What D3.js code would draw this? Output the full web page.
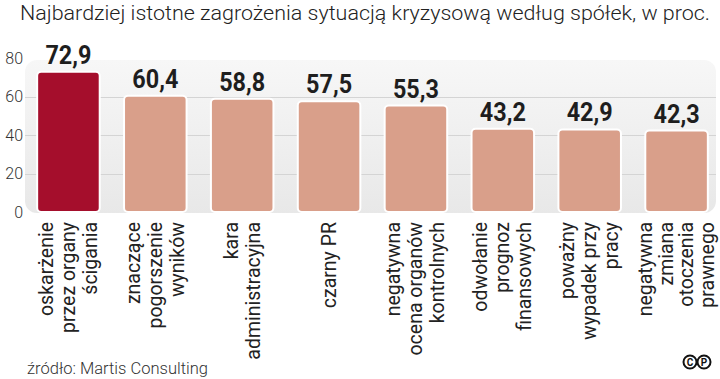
<!DOCTYPE html>
<html><head><meta charset="utf-8">
<script src="https://cdn.jsdelivr.net/npm/d3@7"></script>
<style>html,body{margin:0;padding:0;background:#fff;}svg{display:block;}</style>
</head><body>
<svg id="c" width="720" height="379"></svg>
<script>
const categories = [
  ["oskarżenie","przez organy","ścigania"],
  ["znaczące","pogorszenie","wyników"],
  ["kara","administracyjna"],
  ["czarny PR"],
  ["negatywna","ocena organów","kontrolnych"],
  ["odwołanie","prognoz","finansowych"],
  ["poważny","wypadek przy","pracy"],
  ["negatywna","zmiana","otoczenia","prawnego"]
];
const values = [72.9, 60.4, 58.8, 57.5, 55.3, 43.2, 42.9, 42.3];
const valueLabels = ["72,9","60,4","58,8","57,5","55,3","43,2","42,9","42,3"];
const yTicks = [0, 20, 40, 60, 80];
const title = "Najbardziej istotne zagrożenia sytuacją kryzysową według spółek, w proc.";
const source = "źródło: Martis Consulting";

const svg = d3.select("#c");
const keys = categories.map((c,i)=>"c"+i);
const x = d3.scaleBand().domain(keys).range([25, 720]).paddingInner(0.28).paddingOuter(0.14);
const y = d3.scaleLinear().domain([0, 80]).range([212, 58]);

const defs = svg.append("defs");
const grad = defs.append("linearGradient").attr("id","bg").attr("x1",0).attr("y1",0).attr("x2",0).attr("y2",1);
grad.append("stop").attr("offset","0%").attr("stop-color","#f7f7f7");
grad.append("stop").attr("offset","100%").attr("stop-color","#e8e8e8");

svg.append("rect").attr("x",25).attr("y",y(79)).attr("width",691).attr("height",y(0)-y(79)+1)
  .attr("rx",12).attr("fill","url(#bg)");

// grid
svg.append("g").selectAll("line").data(yTicks.filter(t=>t>0 && t<80)).join("line")
  .attr("x1",25).attr("x2",716).attr("y1",d=>Math.round(y(d))+0.5).attr("y2",d=>Math.round(y(d))+0.5)
  .attr("stroke","#d4d4d4").attr("stroke-width",1);

// y ticks
svg.append("g").selectAll("text").data(yTicks).join("text")
  .attr("x",23).attr("y",d=>y(d)).attr("dy","0.36em").attr("text-anchor","end")
  .attr("font-family","Roboto").attr("font-weight",300).attr("font-size",16).attr("fill","#333")
  .text(d=>d);

// bars
svg.append("g").selectAll("rect").data(values).join("rect")
  .attr("x",(d,i)=>x(keys[i])).attr("width",x.bandwidth())
  .attr("y",d=>y(d)).attr("height",d=>y(0)-y(d))
  .attr("rx",4).attr("fill",(d,i)=>i===0?"#a50e2c":"#d99f8a")
  .attr("stroke","#fff").attr("stroke-width",2);

// value labels
svg.append("g").selectAll("text").data(values).join("text")
  .attr("transform",(d,i)=>`translate(${x(keys[i])+x.bandwidth()/2},${y(d)-8}) scale(0.9,1)`)
  .attr("text-anchor","middle").attr("font-family","Roboto").attr("font-weight",700)
  .attr("font-size",26).attr("fill","#1e1e1e")
  .text((d,i)=>valueLabels[i]);

// category labels
categories.forEach((lines,i)=>{
  const cx = x(keys[i]) + x.bandwidth()/2;
  const n = lines.length;
  const lh = n > 3 ? 20.5 : 22;
  lines.forEach((ln,j)=>{
    const c = cx + (j-(n-1)/2)*lh;
    svg.append("text")
      .attr("transform",`translate(${c+6.5},222) rotate(-90)`)
      .attr("text-anchor","end")
      .attr("font-family","Roboto").attr("font-weight",400).attr("font-size",19.5).attr("fill","#222")
      .text(ln);
  });
});

// title
svg.append("text").attr("x",20).attr("y",20).attr("font-family","Roboto").attr("font-weight",300)
  .attr("font-size",21).attr("fill","#222").attr("textLength",690).attr("lengthAdjust","spacingAndGlyphs")
  .text(title);

// source
svg.append("text").attr("x",27).attr("y",374).attr("font-family","Roboto").attr("font-weight",300)
  .attr("font-size",17).attr("fill","#333").attr("textLength",181).attr("lengthAdjust","spacingAndGlyphs")
  .text(source);

// (C)(P) logo
[["C",690],["P",704]].forEach(([t,cx])=>{
  svg.append("circle").attr("cx",cx).attr("cy",362).attr("r",6.5).attr("fill","none").attr("stroke","#111").attr("stroke-width",2);
  svg.append("text").attr("x",cx).attr("y",362).attr("dy","0.36em").attr("text-anchor","middle")
    .attr("font-family","Roboto").attr("font-weight",700).attr("font-size",10).attr("fill","#111").text(t);
});
</script>
</body></html>
